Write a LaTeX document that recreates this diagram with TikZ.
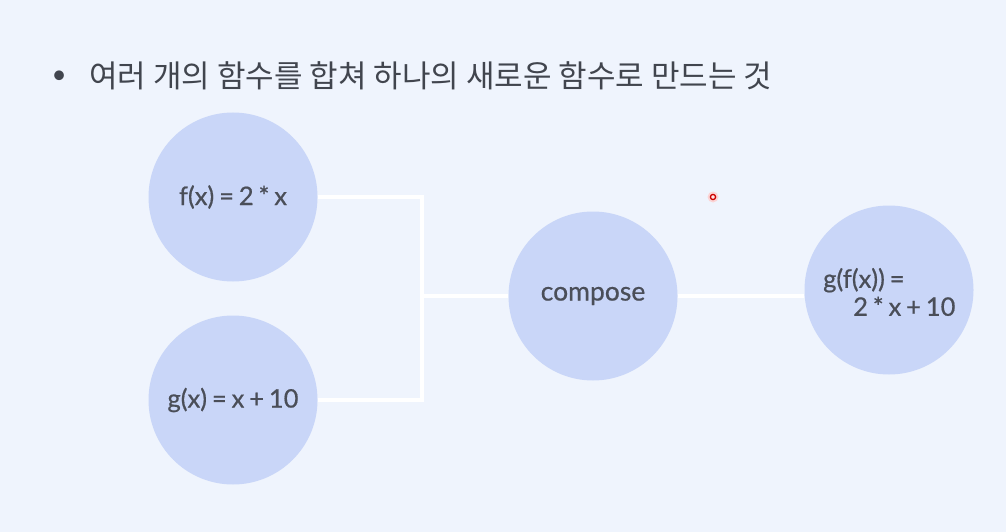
\documentclass[tikz,border=0pt]{standalone}
\usepackage{fontspec}
\setmainfont{Lato}
\newfontfamily\lblfont[FakeBold=0.6, WordSpace=0.75]{Lato}
\newfontfamily\krfont{Noto Sans CJK KR}
\definecolor{bgc}{HTML}{EFF4FD}
\definecolor{circc}{HTML}{C9D6F8}
\definecolor{txtc}{HTML}{4A4E58}
\definecolor{titc}{HTML}{41454E}
\tikzset{
  fn/.style={circle, fill=circc, minimum size=169pt, inner sep=0pt, text=txtc, font=\lblfont\fontsize{25.5}{30}\selectfont},
  wire/.style={draw=white, line width=4pt}
}
\begin{document}
\begin{tikzpicture}[x=1pt,y=-1pt]
\fill[bgc] (0,0) rectangle (1006,532);
\useasboundingbox (0,0) rectangle (1006,532);
\node[text=titc, font=\fontsize{26}{30}\selectfont, anchor=west] (bul) at (48,77) {•};
\node[text=titc, font=\krfont\fontsize{31}{36}\selectfont, anchor=west, inner sep=0pt] (title) at (89,76) {여러 개의 함수를 합쳐 하나의 새로운 함수로 만드는 것};
\node[fn] (f) at (233,197) {f(x) = 2 * x};
\node[fn] (g) at (233,400) {g(x) = x + 10};
\node[fn, font=\lblfont\fontsize{26.5}{30}\selectfont] (c) at (593,296) {compose};
\node[fn] (r) at (889,290) {};
\node[text=txtc, font=\lblfont\fontsize{25.5}{28}\selectfont, align=left, anchor=west, inner sep=0pt] (rt) at (823,292) {g(f(x)) =\\\hspace*{30pt}2 * x + 10};
\coordinate (j) at (422,296);
\draw[wire] (f.east) -| (j) -- (c.west);
\draw[wire] (g.east) -| (j);
\draw[wire] (c.east) -- (r.west |- c.east);
\fill[red!20, opacity=0.8] (713,197) circle (5.5pt);
\draw[red!80!black, line width=1.3pt, fill=red!10] (713,197) circle (2.6pt);
\end{tikzpicture}
\end{document}
